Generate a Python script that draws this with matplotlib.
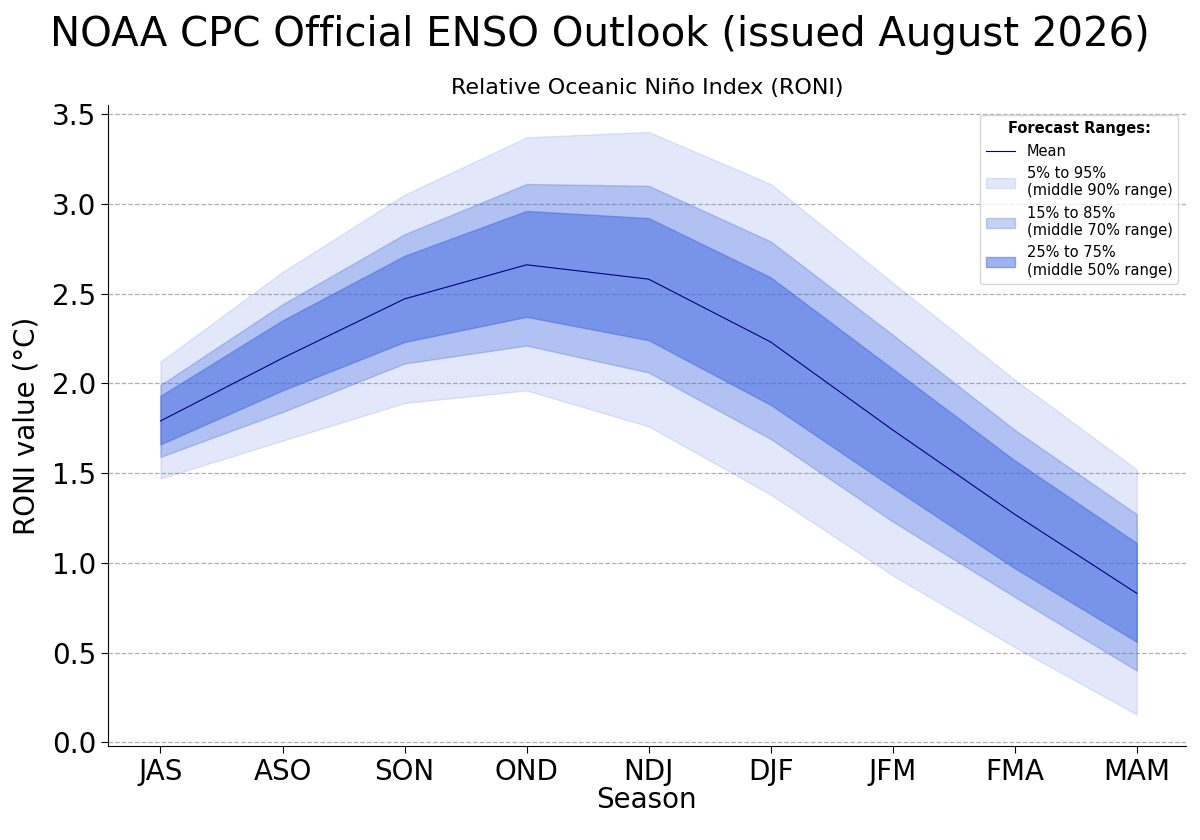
import matplotlib
matplotlib.use("Agg")
import matplotlib.pyplot as plt

seasons = ["JAS","ASO","SON","OND","NDJ","DJF","JFM","FMA","MAM"]
mean = [1.79,2.14,2.47,2.66,2.58,2.23,1.74,1.27,0.83]
p05 = [1.47,1.68,1.89,1.96,1.76,1.38,0.93,0.53,0.155]
p95 = [2.12,2.62,3.05,3.37,3.40,3.11,2.56,2.02,1.52]
p15 = [1.59,1.84,2.11,2.21,2.06,1.69,1.23,0.81,0.40]
p85 = [1.99,2.44,2.83,3.11,3.10,2.79,2.27,1.74,1.27]
p25 = [1.66,1.96,2.23,2.37,2.24,1.88,1.42,0.97,0.56]
p75 = [1.93,2.35,2.71,2.96,2.92,2.59,2.08,1.57,1.11]

fig = plt.figure(figsize=(12,8.4), dpi=100)
ax = fig.add_axes([0.09, 0.112, 0.898, 0.763])
x = list(range(len(seasons)))
c = "royalblue"
ax.fill_between(x, p05, p95, color=c, alpha=0.15, label="5% to 95%\n(middle 90% range)")
ax.fill_between(x, p15, p85, color=c, alpha=0.3, label="15% to 85%\n(middle 70% range)")
ax.fill_between(x, p25, p75, color=c, alpha=0.5, label="25% to 75%\n(middle 50% range)")
ax.plot(x, mean, color="navy", lw=0.8, label="Mean")
ax.set_xlim(-0.43, 8.4)
ax.set_ylim(-0.02, 3.55)
ax.set_xticks(x)
ax.set_xticklabels(seasons, fontsize=20)
ax.set_yticks([0,0.5,1,1.5,2,2.5,3,3.5])
ax.set_yticklabels(["0.0","0.5","1.0","1.5","2.0","2.5","3.0","3.5"])
ax.tick_params(axis='y', labelsize=20)
ax.tick_params(length=5)
ax.grid(axis='y', linestyle='--', color='#b0b0b0', lw=0.9)
ax.set_axisbelow(True)
for s in ["top","right"]:
    ax.spines[s].set_visible(False)
ax.set_xlabel("Season", fontsize=20, labelpad=0)
ax.set_ylabel("RONI value (°C)", fontsize=20, labelpad=8)
ax.set_title("Relative Oceanic Niño Index (RONI)", fontsize=16, pad=8)
fig.suptitle("NOAA CPC Official ENSO Outlook (issued August 2026)", fontsize=29, x=0.5, y=0.982)
h, l = ax.get_legend_handles_labels()
order = [3,0,1,2]
leg = ax.legend([h[i] for i in order], [l[i] for i in order], loc="upper right",
                title="Forecast Ranges:", fontsize=10.5, title_fontproperties={'weight':'bold','size':10.5},
                bbox_to_anchor=(1.0, 0.995))
fig.savefig("out.png")
